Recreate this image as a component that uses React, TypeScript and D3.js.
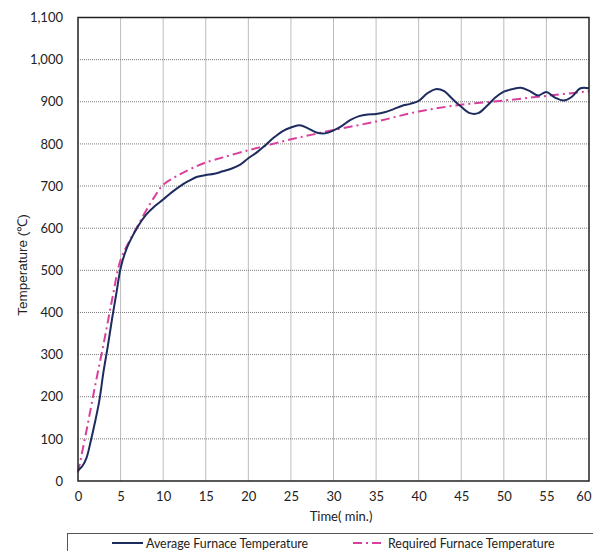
import { useRef, useEffect } from 'react';
import * as d3 from 'd3';

// Average furnace temperature (measured)
const avgTime = [0, 0.5, 1, 1.5, 2, 2.5, 3, 3.5, 4, 4.5, 5, 5.5, 6, 7, 8, 9, 10, 11, 12, 13, 14, 15, 16, 17, 18, 19, 20, 21, 22, 23, 24, 25, 26, 27, 28, 29, 30, 31, 32, 33, 34, 35, 36, 37, 38, 39, 40, 41, 42, 43, 44, 45, 46, 47, 48, 49, 50, 51, 52, 53, 54, 55, 56, 57, 58, 59, 60];
const avgTemp = [25, 35, 55, 95, 140, 190, 260, 320, 385, 445, 505, 540, 565, 603, 632, 652, 668, 685, 700, 712, 722, 726, 729, 735, 741, 750, 766, 780, 797, 815, 830, 839, 844, 837, 827, 825, 832, 843, 857, 866, 870, 871, 875, 882, 890, 895, 902, 920, 930, 925, 906, 888, 873, 873, 890, 910, 924, 930, 933, 926, 915, 923, 910, 903, 912, 932, 932];

// Required furnace temperature
const reqTime = [0, 1, 2, 3, 4, 5, 6, 7, 8, 9, 10, 12, 14, 15, 17, 20, 22.5, 25, 27.5, 30, 35, 40, 45, 50, 55, 60];
const reqTemp = [20, 120, 225, 325, 430, 525, 568, 605, 642, 675, 703, 728, 748, 756, 768, 785, 798, 811, 822, 833, 853, 877, 893, 903, 914, 925];

const xTicks = [0, 5, 10, 15, 20, 25, 30, 35, 40, 45, 50, 55, 60];
const yTicks = [0, 100, 200, 300, 400, 500, 600, 700, 800, 900, 1000, 1100];

const seriesNames = ['Average Furnace Temperature', 'Required Furnace Temperature'];
const xTitle = 'Time( min.)';
const yTitle = 'Temperature (℃)';

const BLUE = '#1d2b5e';
const PINK = '#d8409c';
const FONT = 'Lato, "Open Sans", sans-serif';

export default function App() {
  const svgRef = useRef<SVGSVGElement>(null);

  useEffect(() => {
    if (!svgRef.current) return;
    const svg = d3.select(svgRef.current);
    svg.selectAll('*').remove();

    const width = 593;
    const height = 551;
    const margin = { top: 17.5, left: 78 };
    const innerW = 589 - margin.left;
    const innerH = 481 - margin.top;

    svg.append('rect').attr('width', width).attr('height', height).attr('fill', '#fff');
    const g = svg.append('g').attr('transform', `translate(${margin.left},${margin.top})`);

    const x = d3.scaleLinear().domain([0, 60]).range([0, innerW]);
    const y = d3.scaleLinear().domain([0, 1100]).range([innerH, 0]);

    // grid
    g.append('g')
      .selectAll('line')
      .data(xTicks.slice(1, -1))
      .join('line')
      .attr('x1', d => x(d)).attr('x2', d => x(d))
      .attr('y1', 0).attr('y2', innerH)
      .attr('stroke', '#7a7a7a').attr('stroke-width', 1).attr('stroke-dasharray', '1,1');
    g.append('g')
      .selectAll('line')
      .data(yTicks.slice(1, -1))
      .join('line')
      .attr('x1', 0).attr('x2', innerW)
      .attr('y1', d => y(d)).attr('y2', d => y(d))
      .attr('stroke', '#7a7a7a').attr('stroke-width', 1).attr('stroke-dasharray', '1,1');

    // tick labels
    const yAxis = g.append('g')
      .call(d3.axisLeft(y).tickValues(yTicks).tickSize(0).tickPadding(15).tickFormat(d3.format(',') as any));
    yAxis.select('.domain').remove();
    yAxis.selectAll('text').attr('fill', '#222').style('font-size', '13px').style('font-family', FONT);

    const xAxis = g.append('g').attr('transform', `translate(0,${innerH})`)
      .call(d3.axisBottom(x).tickValues(xTicks).tickSize(0).tickPadding(11));
    xAxis.select('.domain').remove();
    xAxis.selectAll('text').attr('fill', '#222').style('font-size', '13px').style('font-family', FONT);
    // last label sits at the very edge, keep it inside
    xAxis.selectAll('text').filter((d: any) => d === 60).attr('text-anchor', 'end').attr('dx', '0.15em');

    // lines
    const reqData = reqTime.map((t, i) => [t, reqTemp[i]] as [number, number]);
    const avgData = avgTime.map((t, i) => [t, avgTemp[i]] as [number, number]);
    const lineGen = d3.line<[number, number]>()
      .x(d => x(d[0]))
      .y(d => y(d[1]))
      .curve(d3.curveCatmullRom.alpha(0.5));

    g.append('path').datum(reqData).attr('d', lineGen)
      .attr('fill', 'none').attr('stroke', PINK).attr('stroke-width', 2)
      .attr('stroke-dasharray', '9,4,2,4');
    g.append('path').datum(avgData).attr('d', lineGen)
      .attr('fill', 'none').attr('stroke', BLUE).attr('stroke-width', 2);

    // frame
    g.append('rect').attr('width', innerW).attr('height', innerH)
      .attr('fill', 'none').attr('stroke', '#222').attr('stroke-width', 1.5);

    // titles
    svg.append('text').attr('x', 341).attr('y', 521).attr('text-anchor', 'middle')
      .attr('fill', '#222').style('font-size', '13px').style('font-family', FONT).text(xTitle);
    svg.append('text').attr('transform', `translate(27,265) rotate(-90)`)
      .attr('text-anchor', 'middle').attr('fill', '#222')
      .style('font-size', '13.5px').style('font-family', '"Liberation Sans", Arial, sans-serif').text(yTitle);

    // legend
    const leg = svg.append('g');
    leg.append('rect').attr('x', 67.5).attr('y', 533.5).attr('width', 540).attr('height', 30)
      .attr('fill', '#fff').attr('stroke', '#555').attr('stroke-width', 1);
    leg.append('line').attr('x1', 112).attr('x2', 143).attr('y1', 543).attr('y2', 543)
      .attr('stroke', BLUE).attr('stroke-width', 2);
    leg.append('text').attr('x', 146).attr('y', 547.5).attr('fill', '#222')
      .style('font-size', '12.4px').style('font-family', FONT).text(seriesNames[0]);
    leg.append('line').attr('x1', 353).attr('x2', 381).attr('y1', 543).attr('y2', 543)
      .attr('stroke', PINK).attr('stroke-width', 2).attr('stroke-dasharray', '9,4,2,4');
    leg.append('text').attr('x', 388).attr('y', 547.5).attr('fill', '#222')
      .style('font-size', '12.4px').style('font-family', FONT).text(seriesNames[1]);
  }, []);

  return (
    <svg
      ref={svgRef}
      width={593}
      height={551}
      style={{ position: 'absolute', left: 0, top: 0, display: 'block' }}
    />
  );
}
